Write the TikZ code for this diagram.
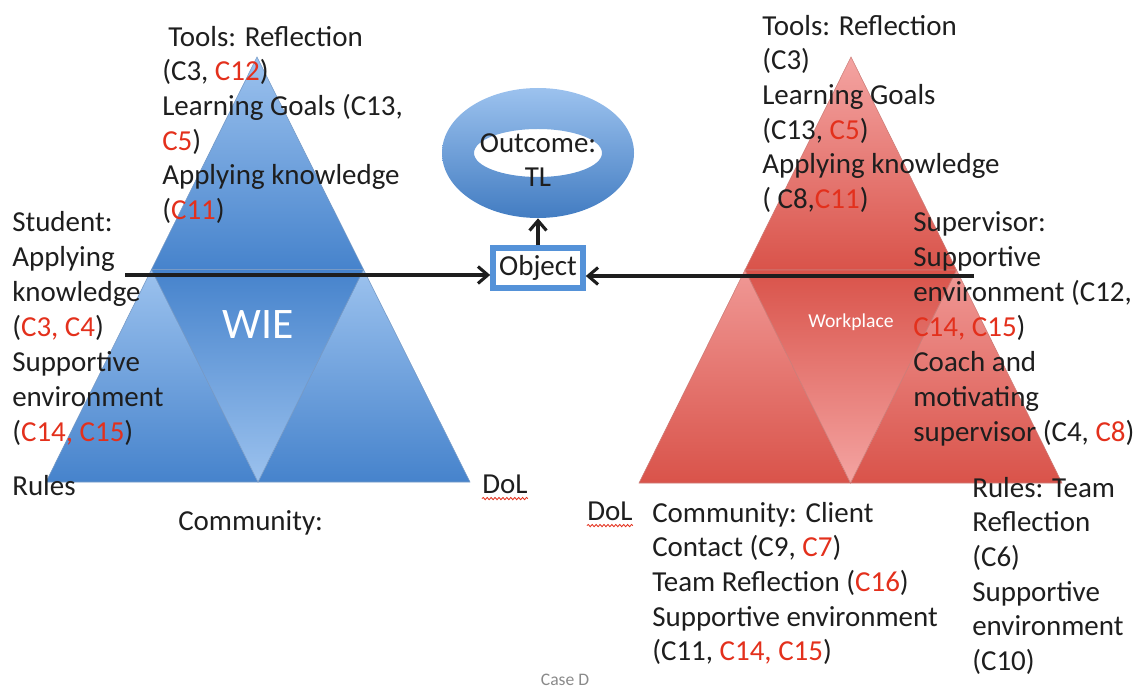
\documentclass[tikz,border=0pt]{standalone}
\usepackage{fontspec}
\setmainfont{Carlito}
\usetikzlibrary{arrows.meta, shapes.geometric, positioning, calc, decorations.pathmorphing}
\definecolor{ink}{HTML}{1E1E1E}
\definecolor{cite-red}{HTML}{E3301C}
\definecolor{wie-light}{HTML}{9CC2EE}
\definecolor{wie-dark}{HTML}{4683CC}
\definecolor{wie-edge}{HTML}{3B6FAE}
\definecolor{work-light}{HTML}{F4A4A2}
\definecolor{work-dark}{HTML}{D9534A}
\definecolor{work-edge}{HTML}{B8453E}
\definecolor{frame-blue}{HTML}{5592D8}
\definecolor{muted}{HTML}{8A8A8A}

\newcommand{\redc}[1]{\textcolor{cite-red}{#1}}

\begin{document}
\begin{tikzpicture}[
    x=0.025cm, y=-0.025cm,
    font={\fontsize{20.6}{24.6}\selectfont},
    >={Straight Barb[length=7pt, width=12pt]},
    % text blocks hang from their top left corner
    blocktext/.style={anchor=north west, inner sep=0pt, align=left, text=ink},
    wide/.style={font={\fontsize{20.6}{24.9}\selectfont}},
    wie-part/.style={draw=wie-edge!70, line width=0.4pt},
    work-part/.style={draw=work-edge!70, line width=0.4pt},
    flow/.style={->, draw=ink, line width=2.2pt},
    spell/.style={cite-red, line width=0.6pt,
        decorate, decoration={snake, amplitude=0.8pt, segment length=2.8pt}},
]
\useasboundingbox (0,0) rectangle (1135,688);

% =====================================================================
% LEFT TRIANGLE — WIE
% =====================================================================

\coordinate (wieTop)   at (257, 57);
\coordinate (wieLeft)  at (46, 482);
\coordinate (wieRight) at (470, 482);
\coordinate (wieML) at ($(wieTop)!0.5!(wieLeft)$);
\coordinate (wieMR) at ($(wieTop)!0.5!(wieRight)$);
\coordinate (wieMB) at ($(wieLeft)!0.5!(wieRight)$);

\shade[wie-part, top color=wie-light, bottom color=wie-dark]
    (wieTop) -- (wieML) -- (wieMR) -- cycle;
\shade[wie-part, top color=wie-light, bottom color=wie-dark]
    (wieML) -- (wieLeft) -- (wieMB) -- cycle;
\shade[wie-part, top color=wie-light, bottom color=wie-dark]
    (wieMR) -- (wieMB) -- (wieRight) -- cycle;
\shade[wie-part, top color=wie-dark, bottom color=wie-light]
    (wieML) -- (wieMR) -- (wieMB) -- cycle;

\node[text=white, font={\fontsize{31}{36}\selectfont}] (wie) at (258, 325) {WIE};

% =====================================================================
% RIGHT TRIANGLE — Workplace
% =====================================================================

\coordinate (workTop)   at (851, 57);
\coordinate (workLeft)  at (639, 483);
\coordinate (workRight) at (1062, 483);
\coordinate (workML) at ($(workTop)!0.5!(workLeft)$);
\coordinate (workMR) at ($(workTop)!0.5!(workRight)$);
\coordinate (workMB) at ($(workLeft)!0.5!(workRight)$);

\shade[work-part, top color=work-light, bottom color=work-dark]
    (workTop) -- (workML) -- (workMR) -- cycle;
\shade[work-part, top color=work-light!85!work-dark, bottom color=work-dark]
    (workML) -- (workLeft) -- (workMB) -- cycle;
\shade[work-part, top color=work-light!85!work-dark, bottom color=work-dark]
    (workMR) -- (workMB) -- (workRight) -- cycle;
\shade[work-part, top color=work-dark, bottom color=work-light]
    (workML) -- (workMR) -- (workMB) -- cycle;

\node[text=white, font={\fontsize{14}{17}\selectfont}] (workplace) at (851, 322) {Workplace};

% =====================================================================
% OUTCOME RING and OBJECT
% =====================================================================

\node[ellipse, minimum width=4.8cm, minimum height=3.25cm, inner sep=0pt] (ring) at (538, 153) {};
\shade[top color=wie-light, bottom color=wie-dark!95!black, even odd rule]
    (ring.center) ellipse (96 and 65)
    (ring.center) ellipse (64 and 24);
\node[text=ink, align=center, inner sep=0pt] (outcome) at (538, 160) {Outcome:\\TL};

\node[draw=frame-blue, line width=0.14cm, fill=white, inner sep=0pt,
      minimum width=2.25cm, minimum height=0.99cm, text=ink] (object) at (538, 268) {Object};

\draw[flow] (object.north) -- (ring.south);

\coordinate (studentIn)    at (125, 275);
\coordinate (supervisorIn) at (974, 276);
\draw[flow] (studentIn) -- (object.west |- studentIn);
\draw[flow] (supervisorIn) -- (object.east |- supervisorIn);

% =====================================================================
% LEFT LABELS
% =====================================================================

\node[blocktext] (toolsL) at (162, 26) {\hspace*{0.15cm}Tools: Reflection\\
    (C3, \redc{C12})\\Learning Goals (C13,\\\redc{C5})\\Applying knowledge\\(\redc{C11})};
\node[blocktext, wide] (studentL) at (12, 211) {Student:\\Applying\\knowledge\\
    (\redc{C3, C4})\\Supportive\\environment\\(\redc{C14, C15})};
\node[blocktext] (rulesL) at (12, 475) {Rules};
\node[blocktext] (dolL) at (482, 475) {DoL};
\draw[spell] ([yshift=-3]dolL.south west) -- ([yshift=-3]dolL.south east);
\node[blocktext] (communityL) at (178, 510) {Community:};

% =====================================================================
% RIGHT LABELS
% =====================================================================

\node[blocktext] (toolsR) at (762, 15) {Tools: Reflection\\(C3)\\Learning Goals\\
    (C13, \redc{C5})\\Applying knowledge\\( C8,\redc{C11})};
\node[blocktext, wide] (supervisorR) at (913, 211) {Supervisor:\\Supportive\\
    environment (C12,\\\redc{C14, C15})\\Coach and\\motivating\\supervisor (C4, \redc{C8})};
\node[blocktext] (dolR) at (587, 502) {DoL};
\draw[spell] ([yshift=-3]dolR.south west) -- ([yshift=-3]dolR.south east);
\node[blocktext] (communityR) at (652, 502) {Community: Client\\Contact (C9, \redc{C7})\\
    Team Reflection (\redc{C16})\\Supportive environment\\(C11, \redc{C14, C15})};
\node[blocktext] (rulesR) at (972, 477) {Rules: Team\\Reflection\\(C6)\\
    Supportive\\environment\\(C10)};

\node[text=muted, font={\fontsize{12.5}{15}\selectfont}] (caseD) at (565, 680) {Case D};

\end{tikzpicture}
\end{document}
